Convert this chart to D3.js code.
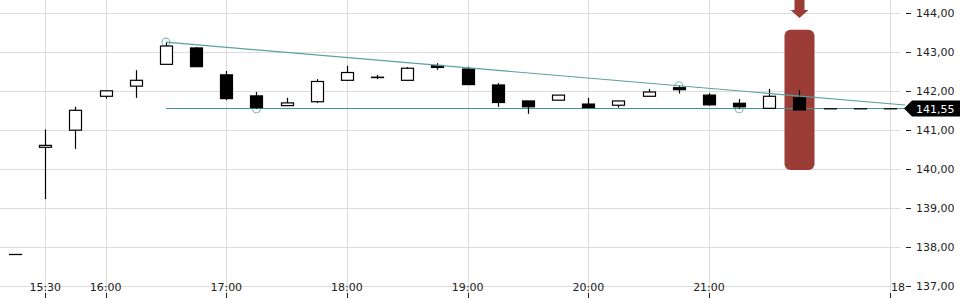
<!DOCTYPE html>
<html>
<head>
<meta charset="utf-8">
<script src="https://cdn.jsdelivr.net/npm/d3@7"></script>
<style>
  body { margin: 0; background: #fff; }
  text { font-family: "DejaVu Sans", sans-serif; font-size: 11px; }
</style>
</head>
<body>
<div id="chart"></div>
<script>
// 15-minute candles, slot index 0..29
const opens  = [137.81, 140.56, 141.00, 141.87, 142.13, 142.69, 143.11, 142.42, 141.88, 141.63,
                141.73, 142.28, 142.35, 142.28, 142.66, 142.57, 142.16, 141.75, 141.77, 141.67,
                141.64, 141.87, 142.09, 141.90, 141.69, 141.56, 141.83, 141.55, 141.55, 141.55];
const highs  = [137.81, 141.02, 141.60, 142.02, 142.54, 143.26, 143.13, 142.52, 141.98, 141.83,
                142.31, 142.65, 142.42, 142.62, 142.72, 142.63, 142.21, 141.75, 141.90, 141.83,
                141.75, 142.06, 142.14, 141.95, 141.80, 142.06, 142.03, 141.55, 141.55, 141.55];
const lows   = [137.81, 139.23, 140.52, 141.81, 141.83, 142.69, 142.63, 141.77, 141.55, 141.63,
                141.70, 142.28, 142.31, 142.28, 142.55, 142.17, 141.60, 141.42, 141.77, 141.58,
                141.58, 141.87, 141.94, 141.63, 141.55, 141.56, 141.52, 141.55, 141.55, 141.55];
const closes = [137.81, 140.61, 141.51, 142.01, 142.28, 143.16, 142.63, 141.81, 141.58, 141.70,
                142.25, 142.48, 142.36, 142.59, 142.61, 142.17, 141.71, 141.60, 141.90, 141.58,
                141.75, 141.98, 142.04, 141.65, 141.60, 141.87, 141.52, 141.55, 141.55, 141.55];

const xTickSlots  = [1, 3, 7, 11, 15, 19, 23, 29];
const xTickLabels = ["15:30", "16:00", "17:00", "18:00", "19:00", "20:00", "21:00", "18"];
const yTicks = [137, 138, 139, 140, 141, 142, 143, 144];

// pivot points and trend lines
const resistanceSlots = [5, 22];
const supportSlots = [8, 24];
const supportLevel = 141.55;
const lastPrice = 141.55;
const highlightSlot = 26;
const highlightRange = [139.98, 143.58];

const candles = opens.map((o, i) => ({ i, o, h: highs[i], l: lows[i], c: closes[i] }));

const width = 960, height = 300;
const plotRight = 905;

const svg = d3.select("#chart").append("svg")
    .attr("width", width)
    .attr("height", height);

const x = d3.scaleLinear().domain([0, 29]).range([15.1, 890]);
const y = d3.scaleLinear().domain([137, 144]).range([286, 13.3]);

const comma = d3.formatLocale({ decimal: ",", thousands: ".", grouping: [3], currency: ["", ""] }).format(".2f");
const crisp = v => Math.round(v) + 0.5;

// grid
svg.append("g").selectAll("line")
    .data(yTicks)
    .join("line")
    .attr("x1", 0).attr("x2", 900)
    .attr("y1", d => crisp(y(d))).attr("y2", d => crisp(y(d)))
    .attr("stroke", "#dcdcdc");

svg.append("g").selectAll("line")
    .data(xTickSlots)
    .join("line")
    .attr("x1", d => crisp(x(d))).attr("x2", d => crisp(x(d)))
    .attr("y1", 0).attr("y2", 293)
    .attr("stroke", "#dcdcdc");

// y axis on the right
const yAxis = svg.append("g");
yAxis.selectAll("line")
    .data(yTicks)
    .join("line")
    .attr("x1", 906).attr("x2", 911)
    .attr("y1", d => crisp(y(d))).attr("y2", d => crisp(y(d)))
    .attr("stroke", "#222");
yAxis.selectAll("text")
    .data(yTicks)
    .join("text")
    .attr("x", 916)
    .attr("y", d => y(d) + 4)
    .attr("fill", "#222")
    .text(d => comma(d));

// x axis labels
const xAxis = svg.append("g");
xAxis.selectAll("line")
    .data(xTickSlots)
    .join("line")
    .attr("x1", d => crisp(x(d))).attr("x2", d => crisp(x(d)))
    .attr("y1", 293).attr("y2", 298)
    .attr("stroke", "#222");
xAxis.selectAll("text")
    .data(xTickSlots)
    .join("text")
    .attr("x", (d, k) => k === xTickSlots.length - 1 ? x(d) + 1 : x(d))
    .attr("y", 291)
    .attr("text-anchor", (d, k) => k === xTickSlots.length - 1 ? "start" : "middle")
    .attr("fill", "#222")
    .text((d, k) => xTickLabels[k]);

// highlight box and arrow
const hx = x(highlightSlot);
svg.append("rect")
    .attr("x", hx - 15).attr("width", 30)
    .attr("y", y(highlightRange[1]))
    .attr("height", y(highlightRange[0]) - y(highlightRange[1]))
    .attr("rx", 6)
    .attr("fill", "#9b3c36");
svg.append("path")
    .attr("d", `M${hx - 5},0 H${hx + 5} V10 H${hx + 9} L${hx},18 L${hx - 9},10 H${hx - 5} Z`)
    .attr("fill", "#9b3c36");

// pivot circles
const pivots = resistanceSlots.map(i => ({ i, p: highs[i] }))
    .concat(supportSlots.map(i => ({ i, p: supportLevel })));
svg.append("g").selectAll("circle")
    .data(pivots)
    .join("circle")
    .attr("cx", d => x(d.i))
    .attr("cy", d => y(d.p))
    .attr("r", 4)
    .attr("fill", "none")
    .attr("stroke", "#86bcbc")
    .attr("stroke-width", 1.2);

// trend lines
const r0 = resistanceSlots[0], r1 = resistanceSlots[1];
const slope = (highs[r1] - highs[r0]) / (r1 - r0);
const endSlot = x.invert(plotRight);

svg.append("line")
    .attr("x1", x(r0)).attr("x2", x(endSlot))
    .attr("y1", crisp(y(supportLevel)) - 1).attr("y2", crisp(y(supportLevel)) - 1)
    .attr("stroke", "#3f9797")
    .attr("stroke-width", 1)
    .attr("shape-rendering", "crispEdges");

// candles
const g = svg.append("g");
g.selectAll("line")
    .data(candles)
    .join("line")
    .attr("x1", d => crisp(x(d.i))).attr("x2", d => crisp(x(d.i)))
    .attr("y1", d => y(d.h)).attr("y2", d => y(d.l))
    .attr("stroke", "#000")
    .attr("stroke-width", 1.2);

g.selectAll("rect")
    .data(candles)
    .join("rect")
    .attr("x", d => Math.round(x(d.i) - 6) + 0.5)
    .attr("width", 12)
    .attr("y", d => y(Math.max(d.o, d.c)))
    .attr("height", d => Math.max(0.1, Math.abs(y(d.o) - y(d.c))))
    .attr("fill", d => d.c >= d.o ? "#fff" : "#000")
    .attr("stroke", "#000")
    .attr("stroke-width", 1.2);

svg.append("line")
    .attr("x1", x(r0)).attr("y1", y(highs[r0]))
    .attr("x2", x(endSlot)).attr("y2", y(highs[r0] + slope * (endSlot - r0)))
    .attr("stroke", "#5aa2a2")
    .attr("stroke-width", 1.2);

// last price label
const ly = crisp(y(lastPrice)) - 1;
svg.append("path")
    .attr("d", `M904,${ly} L912,${ly - 8} H960 V${ly + 8} H912 Z`)
    .attr("fill", "#000");
svg.append("text")
    .attr("x", 916)
    .attr("y", ly + 4)
    .attr("fill", "#fff")
    .text(comma(lastPrice));
</script>
</body>
</html>
